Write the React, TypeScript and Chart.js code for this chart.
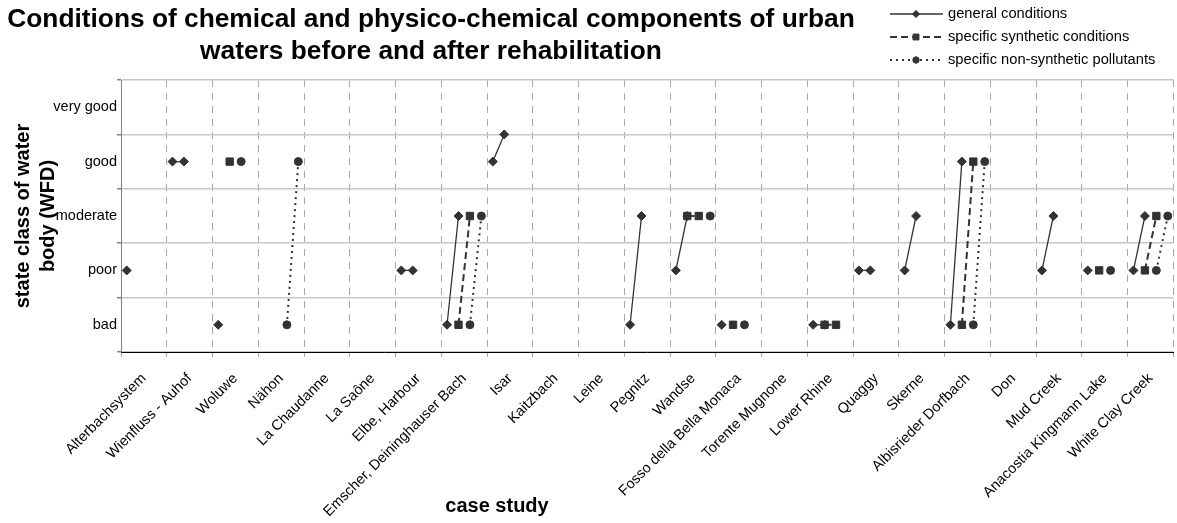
import React, { useEffect, useRef } from 'react';
import { Chart, registerables } from 'chart.js';

Chart.register(...registerables);

const titleLines = [
  'Conditions of chemical and physico-chemical components of urban',
  'waters before and after rehabilitation',
];
const xAxisTitle = 'case study';
const yAxisTitle = ['state class of water', 'body (WFD)'];
const classLabels = ['bad', 'poor', 'moderate', 'good', 'very good'];
const categories = [
  'Alterbachsystem', 'Wienfluss - Auhof', 'Woluwe', 'Nähon', 'La Chaudanne', 'La Saône',
  'Elbe, Harbour', 'Emscher, Deininghauser Bach', 'Isar', 'Kaitzbach', 'Leine', 'Pegnitz',
  'Wandse', 'Fosso della Bella Monaca', 'Torente Mugnone', 'Lower Rhine', 'Quaggy', 'Skerne',
  'Albisrieder Dorfbach', 'Don', 'Mud Creek', 'Anacostia Kingmann Lake', 'White Clay Creek',
];
const seriesNames = ['general conditions', 'specific synthetic conditions', 'specific non-synthetic pollutants'];

const N = null;
// state class: 1 bad, 2 poor, 3 moderate, 4 good, 5 very good
const generalBefore = [2, 4, 1, N, N, N, 2, 1, 4, N, N, 1, 2, 1, N, 1, 2, 2, 1, N, 2, 2, 2];
const generalAfter = [N, 4, N, N, N, N, 2, 3, 4.5, N, N, 3, 3, N, N, 1, 2, 3, 4, N, 3, N, 3];
const syntheticBefore = [N, N, 4, N, N, N, N, 1, N, N, N, N, 3, 1, N, 1, N, N, 1, N, N, 2, 2];
const syntheticAfter = [N, N, N, N, N, N, N, 3, N, N, N, N, 3, N, N, 1, N, N, 4, N, N, N, 3];
const nonSyntheticBefore = [N, N, 4, 1, N, N, N, 1, N, N, N, N, N, 1, N, N, N, N, 1, N, N, 2, 2];
const nonSyntheticAfter = [N, N, N, 4, N, N, N, 3, N, N, N, N, 3, N, N, N, N, N, 4, N, N, N, 3];

// x offsets (in category units) of the four sub-slots inside each case-study column
const slots = [0.125, 0.375, 0.625, 0.875];

const FONT = "'Liberation Sans', Arial, Helvetica, sans-serif";
const INK = '#333333';

function buildPoints(before: (number | null)[], after: (number | null)[], slot: number) {
  const pts: { x: number; y: number | null }[] = [];
  categories.forEach((_, i) => {
    pts.push({ x: i + slots[slot], y: before[i] });
    pts.push({ x: i + slots[slot + 1], y: after[i] });
    pts.push({ x: i + 0.99, y: null });
  });
  return pts;
}

function drawMarker(ctx: CanvasRenderingContext2D, style: string, x: number, y: number, r: number) {
  ctx.beginPath();
  if (style === 'rectRot') {
    ctx.moveTo(x, y - r);
    ctx.lineTo(x + r, y);
    ctx.lineTo(x, y + r);
    ctx.lineTo(x - r, y);
    ctx.closePath();
  } else if (style === 'rect') {
    const h = r * Math.SQRT1_2;
    ctx.rect(x - h, y - h, 2 * h, 2 * h);
  } else {
    ctx.arc(x, y, r, 0, Math.PI * 2);
  }
  ctx.fill();
  ctx.stroke();
}

const decorPlugin = {
  id: 'decor',
  afterDraw(chart: any) {
    const ctx: CanvasRenderingContext2D = chart.ctx;
    ctx.save();
    ctx.fillStyle = '#000';
    ctx.textAlign = 'center';
    ctx.textBaseline = 'middle';
    ctx.font = `bold 26.3px ${FONT}`;
    ctx.fillText(titleLines[0], 431, 20);
    ctx.fillText(titleLines[1], 431, 52);

    ctx.font = `bold 20px ${FONT}`;
    ctx.fillText(xAxisTitle, 497, 506);

    // legend
    ctx.textAlign = 'left';
    ctx.font = `14.7px ${FONT}`;
    const rows = [14, 37, 60];
    chart.data.datasets.forEach((ds: any, i: number) => {
      const y = rows[i];
      ctx.save();
      ctx.strokeStyle = ds.borderColor;
      ctx.lineWidth = ds.borderWidth;
      ctx.setLineDash(ds.borderDash || []);
      ctx.beginPath();
      ctx.moveTo(890, y);
      ctx.lineTo(943, y);
      ctx.stroke();
      ctx.setLineDash([]);
      ctx.fillStyle = ds.pointBackgroundColor;
      ctx.strokeStyle = ds.pointBorderColor;
      ctx.lineWidth = 1;
      drawMarker(ctx, ds.pointStyle, 916, y, ds.pointRadius * 0.8);
      ctx.restore();
      ctx.fillStyle = '#000';
      ctx.fillText(ds.label, 948, y);
    });
    ctx.restore();
  },
};

export default function App() {
  const canvasRef = useRef<HTMLCanvasElement | null>(null);

  useEffect(() => {
    document.body.style.margin = '0';
    const canvas = canvasRef.current;
    if (!canvas) return;

    const common = {
      borderColor: INK,
      pointBackgroundColor: INK,
      pointBorderColor: INK,
      pointBorderWidth: 1,
      spanGaps: false,
      fill: false,
      tension: 0,
    };

    const chart = new Chart(canvas, {
      type: 'line',
      data: {
        datasets: [
          {
            ...common,
            label: seriesNames[0],
            data: buildPoints(generalBefore, generalAfter, 0),
            borderWidth: 1.3,
            pointStyle: 'rectRot',
            pointRadius: 4.5,
            order: 2,
          },
          {
            ...common,
            label: seriesNames[1],
            data: buildPoints(syntheticBefore, syntheticAfter, 1),
            borderWidth: 2,
            borderDash: [7, 4],
            pointStyle: 'rect',
            pointRadius: 5.2,
            order: 1,
          },
          {
            ...common,
            label: seriesNames[2],
            data: buildPoints(nonSyntheticBefore, nonSyntheticAfter, 2),
            borderWidth: 2,
            borderDash: [2, 4],
            pointStyle: 'circle',
            pointRadius: 4,
            order: 0,
          },
        ] as any,
      },
      options: {
        animation: false,
        responsive: true,
        maintainAspectRatio: false,
        layout: { autoPadding: false, padding: { left: 0, right: 3.5, top: 80, bottom: 0 } },
        plugins: {
          legend: { display: false },
          title: { display: false },
          tooltip: { enabled: false },
        },
        scales: {
          x: {
            type: 'linear',
            min: 0,
            max: categories.length,
            afterBuildTicks: (s: any) => {
              s.ticks = categories.map((_, i) => ({ value: i + 0.5 }));
            },
            afterFit: (s: any) => {
              s.height = 171;
              s.paddingRight = 0;
            },
            ticks: {
              autoSkip: false,
              maxRotation: 45,
              minRotation: 45,
              padding: 0,
              color: '#000',
              font: { family: FONT, size: 14.5 },
              callback: (_v: any, i: number) => categories[i],
            },
            grid: {
              offset: true,
              color: '#a8a8a8',
              lineWidth: 1,
              tickLength: 18,
              tickColor: '#a8a8a8',
              tickBorderDash: [4, 200],
            },
            border: { color: '#000', width: 1, dash: [7, 6] },
          },
          y: {
            type: 'linear',
            min: 0.5,
            max: 5.5,
            afterBuildTicks: (s: any) => {
              s.ticks = classLabels.map((_, i) => ({ value: i + 1 }));
            },
            afterFit: (s: any) => {
              s.width = 121;
            },
            ticks: {
              padding: 0,
              color: '#000',
              font: { family: FONT, size: 14.5 },
              callback: (v: any) => classLabels[Math.round(Number(v)) - 1],
            },
            grid: {
              offset: true,
              color: '#c8c8c8',
              lineWidth: 1.5,
              tickLength: 4,
              tickColor: '#808080',
            },
            border: { color: '#808080', width: 1 },
            title: {
              display: true,
              text: yAxisTitle,
              color: '#000',
              font: { family: FONT, size: 20, weight: 'bold', lineHeight: 1.25 },
              padding: { top: 11, bottom: 0 },
            },
          },
        },
      } as any,
      plugins: [decorPlugin],
    });

    return () => chart.destroy();
  }, []);

  return (
    <div style={{ position: 'relative', width: 1177, height: 523 }}>
      <canvas ref={canvasRef} />
    </div>
  );
}
